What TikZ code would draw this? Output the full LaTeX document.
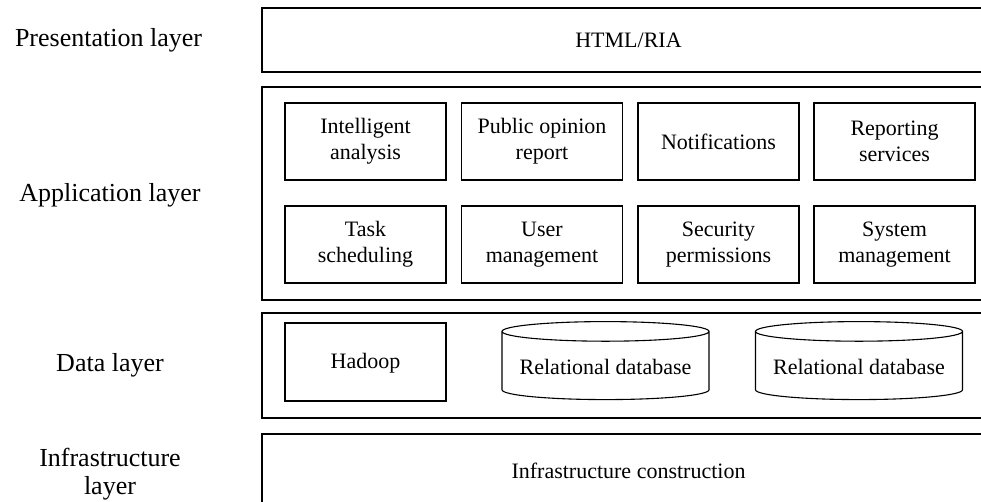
\documentclass[tikz,border=0pt]{standalone}
\usepackage{fontspec}
\setmainfont{Liberation Serif}
\usetikzlibrary{positioning,shapes.geometric}

\begin{document}
\begin{tikzpicture}[x=1pt,y=-1pt]
            \tikzset{
                layer/.style={
                    draw,
                    line width=1.1pt,
                    minimum width=733pt,
                    inner sep=0pt
                }
            }
            \tikzset{
                module/.style={
                    draw,
                    line width=1.1pt,
                    minimum width=161pt,
                    minimum height=77pt,
                    align=center,
                    font=\fontsize{22}{26}\selectfont
                }
            }
            \tikzset{
                store/.style={
                    draw,
                    line width=1.1pt,
                    cylinder,
                    shape border rotate=90,
                    aspect=0.11,
                    minimum width=207pt,
                    minimum height=78pt,
                    font=\fontsize{22}{26}\selectfont
                }
            }
            \tikzset{
                tag/.style={
                    align=center,
                    font=\fontsize{26}{28}\selectfont
                }
            }

            \useasboundingbox (0,0) rectangle (981,501);
            \clip (0,0) rectangle (981,501);

            % the four layers
            \node[layer,minimum height=64pt] (P) at (628.5,40) {};
            \node[layer,minimum height=213pt] (A) at (628.5,193.5) {};
            \node[layer,minimum height=105pt] (D) at (628.5,365.5) {};
            \node[layer,minimum height=73pt] (I) at (628.5,470.5) {};

            \node[font=\fontsize{22}{26}\selectfont] (html) at (P) {HTML/RIA};
            \node[font=\fontsize{22}{26}\selectfont] (infra) at (I) {Infrastructure construction};

            \node[tag] (Pt) at (108.5,40) {Presentation layer};
            \node[tag] (At) at (110,195) {Application layer};
            \node[tag] (Dt) at (110,365) {Data layer};
            \node[tag] (It) at (110,474) {Infrastructure\\layer};

            % application modules
            \node[module] (ia) at (365.5,141.5) {Intelligent\\analysis};
            \node[module] (po) at (542,141.5) {Public opinion\\report};
            \node[module] (nt) at (718.5,141.5) {Notifications};
            \node[module] (rs) at (894.5,141.5) {Reporting\\services};
            \node[module] (ts) at (365.5,244.5) {Task\\scheduling};
            \node[module] (um) at (542,244.5) {User\\management};
            \node[module] (sp) at (718.5,244.5) {Security\\permissions};
            \node[module] (sm) at (894.5,244.5) {System\\management};

            % storage
            \node[module,minimum height=78pt] (hd) at (365.5,362) {\rule{0pt}{18pt}Hadoop};
            \node[store] (db1) at (605.5,367) {Relational database};
            \node[store] (db2) at (859,367) {Relational database};
        \end{tikzpicture}
\end{document}
